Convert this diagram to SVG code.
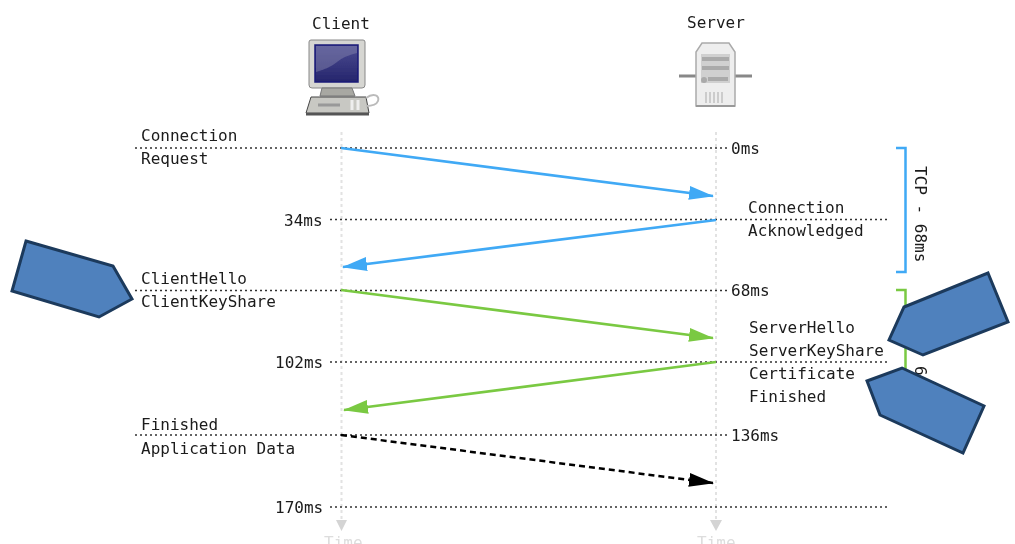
<svg xmlns="http://www.w3.org/2000/svg" width="1015" height="544" viewBox="0 0 1015 544">
<style>
text{font-family:"DejaVu Sans Mono","Liberation Mono",monospace;font-size:16px;fill:#1a1a1a}
.t{fill:#ddd}
.tick{stroke:#333;stroke-width:1.6;stroke-dasharray:2 3;fill:none}
.life{stroke:#e2e2e2;stroke-width:2;stroke-dasharray:3 3;fill:none}
.blue{stroke:#3fa9f5;stroke-width:2.700;fill:none}
.green{stroke:#7ac943;stroke-width:2.700;fill:none}
.br-blue{stroke:#3fa9f5;stroke-width:2.500;fill:none}
.br-green{stroke:#7ac943;stroke-width:2.500;fill:none}
.tag{fill:#4f81bd;stroke:#1c3a5c;stroke-width:3;stroke-linejoin:miter}
</style>
<defs>
<filter id="soft" x="-5%" y="-5%" width="110%" height="110%"><feGaussianBlur stdDeviation="0.45"/></filter>
<linearGradient id="scr" x1="0" y1="0" x2="0" y2="1"><stop offset="0" stop-color="#4c4c92"/><stop offset="1" stop-color="#25256c"/></linearGradient>
<marker id="ab" markerUnits="userSpaceOnUse" markerWidth="28" markerHeight="16" refX="24" refY="8" orient="auto"><path d="M0 1L25 8L0 15Z" fill="#3fa9f5"/></marker>
<marker id="ag" markerUnits="userSpaceOnUse" markerWidth="28" markerHeight="16" refX="24" refY="8" orient="auto"><path d="M0 1L25 8L0 15Z" fill="#7ac943"/></marker>
<marker id="ak" markerUnits="userSpaceOnUse" markerWidth="28" markerHeight="16" refX="24" refY="8" orient="auto"><path d="M0 1L25 8L0 15Z" fill="#000"/></marker>
</defs>
<rect width="1015" height="544" fill="#fff"/>
<g id="connectors" filter="url(#soft)">
<path class="life" d="M341.500 132V520M716 132V520"/>
<path d="M336 520H347L341.500 531ZM710 520H722L716 531Z" fill="#d4d4d4"/>
<path class="tick" d="M135 148H727M330 219.500H890M135 290.500H727M330 362H890M135 435H727M330 507H890"/>
<path class="blue" marker-end="url(#ab)" d="M341 148L713 196"/>
<path class="blue" marker-end="url(#ab)" d="M716 220L343 267"/>
<path class="green" marker-end="url(#ag)" d="M341 290L713 338"/>
<path class="green" marker-end="url(#ag)" d="M716 362L344 410"/>
<path stroke="#000" stroke-width="2.500" stroke-dasharray="6 4" fill="none" marker-end="url(#ak)" d="M341 435L713 483"/>
<path class="br-blue" d="M896 148H905.500V272H896"/>
<path class="br-green" d="M896 290H905.500V375"/>
</g>
<g id="labels" filter="url(#soft)">
<text x="312" y="29">Client</text>
<text x="687" y="28">Server</text>
<text x="141" y="141">Connection</text>
<text x="141" y="164">Request</text>
<text x="731" y="154">0ms</text>
<text x="284" y="226">34ms</text>
<text x="748" y="213">Connection</text>
<text x="748" y="236">Acknowledged</text>
<text x="141" y="284">ClientHello</text>
<text x="141" y="307">ClientKeyShare</text>
<text x="731" y="296">68ms</text>
<text x="749" y="333">ServerHello</text>
<text x="749" y="356">ServerKeyShare</text>
<text x="749" y="379">Certificate</text>
<text x="749" y="402">Finished</text>
<text x="275" y="368">102ms</text>
<text x="141" y="430">Finished</text>
<text x="141" y="454">Application Data</text>
<text x="731" y="441">136ms</text>
<text x="275" y="513">170ms</text>
<text class="t" x="324" y="548">Time</text>
<text class="t" x="697" y="548">Time</text>
<text transform="translate(915,166) rotate(90)">TCP - 68ms</text>
<text transform="translate(915,366) rotate(90)">6</text>
</g>
<g id="client" filter="url(#soft)">
<path d="M311 40H363Q365 40 365 42V85Q365 88 362 88H312Q309 88 309 85V42Q309 40 311 40Z" fill="#d6d6d2" stroke="#888"/>
<rect x="315" y="45" width="43" height="37" fill="url(#scr)" stroke="#1a1a78" stroke-width="1.500"/>
<path d="M316 46H357V53Q344 56 337 62T316 72Z" fill="#8a8ab0" opacity=".45"/>
<path d="M322 88H352L355 96H320Z" fill="#a8a8a2" stroke="#777"/>
<path d="M311 97H366L369 113H306Z" fill="#c8c8c3" stroke="#444"/>
<rect x="306" y="113" width="63" height="2.500" fill="#555"/>
<path d="M318 105H340" stroke="#999" stroke-width="3"/>
<path d="M352 100V110M358 100V110" stroke="#eee" stroke-width="3"/>
<path d="M366 98C374 92 380 96 378 101C376 106 370 106 366 106" fill="none" stroke="#bbb" stroke-width="2"/>
</g>
<g id="server" filter="url(#soft)">
<path d="M679 76H696M733 76H752" stroke="#888" stroke-width="3"/>
<path d="M702 43H729L735 52V106H696V52Z" fill="#eee" stroke="#aaa" stroke-width="1.500"/>
<rect x="696" y="105" width="39" height="2" fill="#999"/>
<rect x="701" y="54" width="29" height="29" fill="#d0d0d0"/>
<path d="M702 59H729M702 68H729M708 79H728" stroke="#aaa" stroke-width="4"/>
<circle cx="704" cy="80" r="3" fill="#aaa"/>
<path d="M706 92V103M710 92V103M714 92V103M718 92V103M722 92V103" stroke="#ccc" stroke-width="2"/>
</g>
<g id="tag-left"><polygon class="tag" points="26,241 113,266 132,299 99,317 12,291"/></g>
<g id="tag-right-upper"><polygon class="tag" points="988,273 1008,322 923,355 889,340 904,307"/></g>
<g id="tag-right-lower"><polygon class="tag" points="902,368 984,406 963,453 880,415 867,381"/></g>
</svg>
